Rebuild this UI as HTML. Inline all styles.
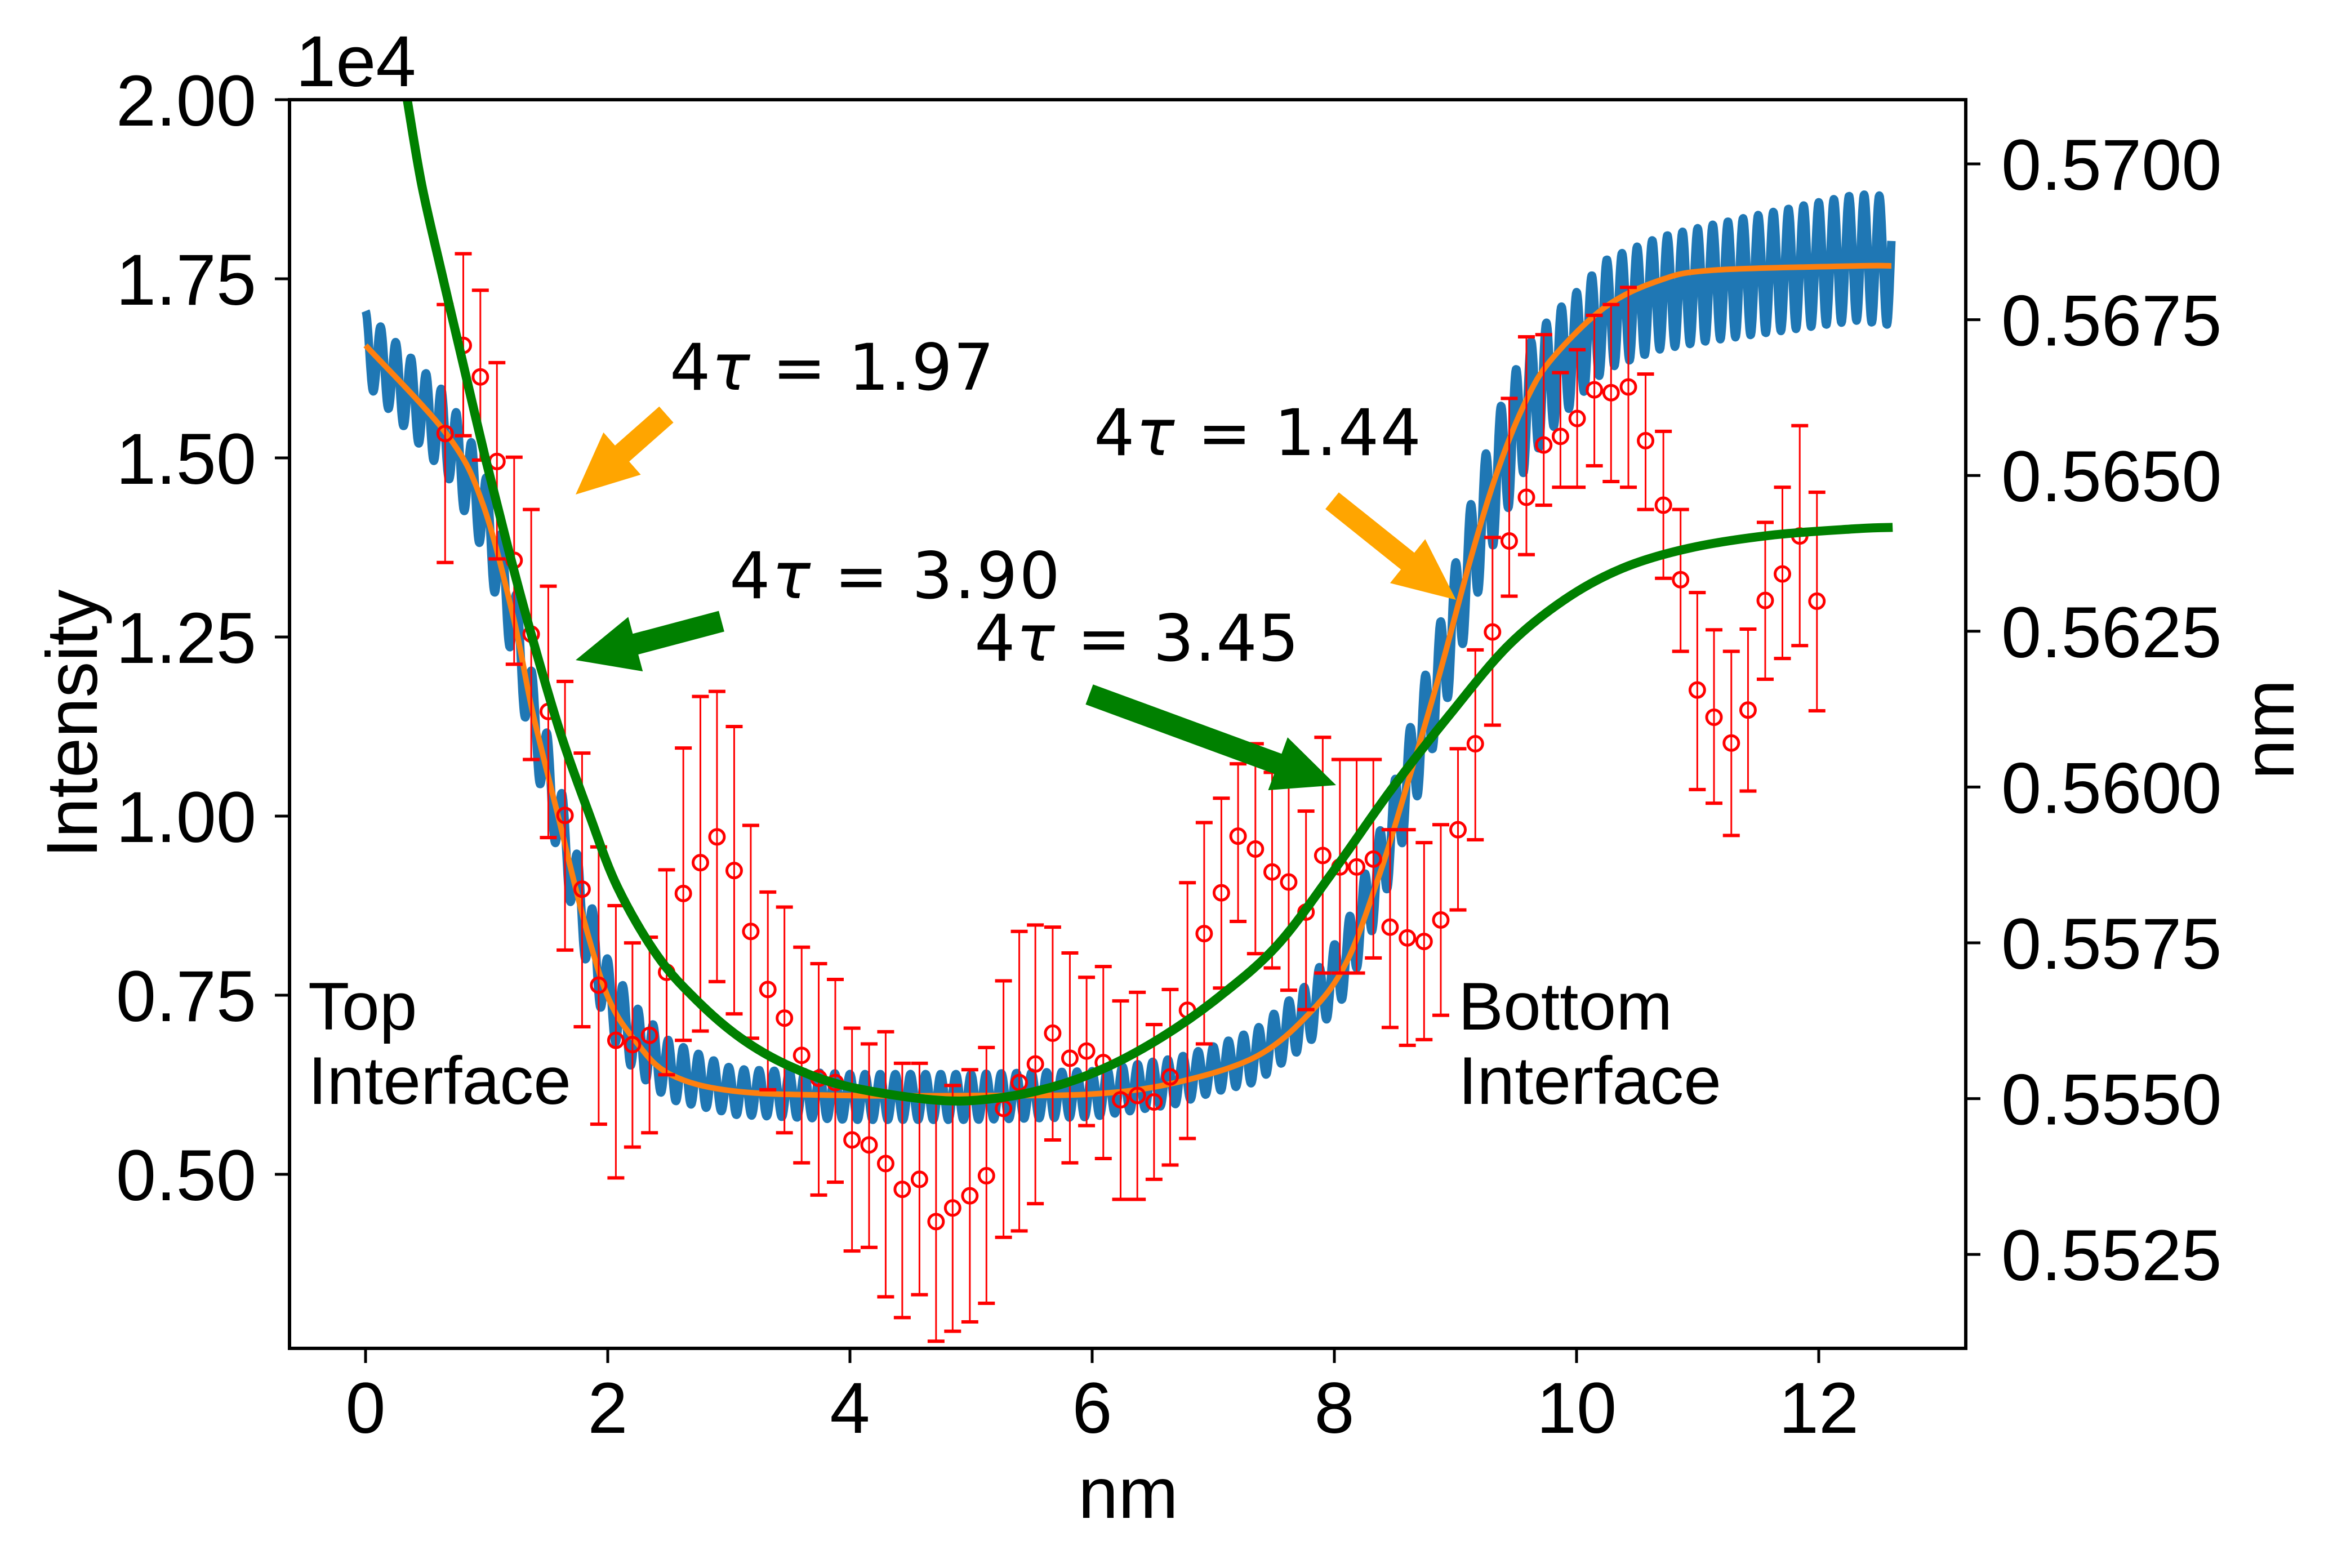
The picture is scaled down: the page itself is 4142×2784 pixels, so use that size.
<!DOCTYPE html>
<html><head><meta charset="utf-8">
<style>
html,body{margin:0;padding:0;background:#fff;}
svg{display:block;}
text{font-family:"Liberation Sans",sans-serif;fill:#000;}
.ann{font-family:"DejaVu Sans","Liberation Sans",sans-serif;font-size:114px;}
</style></head>
<body>
<svg id="chart" width="4142" height="2784" viewBox="0 0 4142 2784" xmlns="http://www.w3.org/2000/svg">
<defs><clipPath id="plotclip"><rect x="514" y="177" width="2976" height="2217"/></clipPath></defs>
<rect x="0" y="0" width="4142" height="2784" fill="#fff"/>
<g id="series" clip-path="url(#plotclip)"></g>
<g id="axes"></g>
<g id="annots">
  <text class="ann" x="1189" y="692" textLength="576" lengthAdjust="spacing">4<tspan font-style="italic">τ</tspan> = 1.97</text>
  <text class="ann" x="1295" y="1062" textLength="587" lengthAdjust="spacing">4<tspan font-style="italic">τ</tspan> = 3.90</text>
  <text class="ann" x="1730" y="1173" textLength="576" lengthAdjust="spacing">4<tspan font-style="italic">τ</tspan> = 3.45</text>
  <text class="ann" x="1942" y="808" textLength="581" lengthAdjust="spacing">4<tspan font-style="italic">τ</tspan> = 1.44</text>
  <text x="547" y="1828" font-size="120">Top</text>
  <text x="547" y="1960" font-size="120">Interface</text>
  <text x="2589" y="1828" font-size="120">Bottom</text>
  <text x="2589" y="1960" font-size="120">Interface</text>
</g>
</svg>
<script>
// ---- data ----
const xTicks = [0, 2, 4, 6, 8, 10, 12];
const yTicks = [0.50, 0.75, 1.00, 1.25, 1.50, 1.75, 2.00];
const yTickLabels = ["0.50", "0.75", "1.00", "1.25", "1.50", "1.75", "2.00"];
const y2Ticks = [0.5700, 0.5675, 0.5650, 0.5625, 0.5600, 0.5575, 0.5550, 0.5525];
const y2TickLabels = ["0.5700", "0.5675", "0.5650", "0.5625", "0.5600", "0.5575", "0.5550", "0.5525"];

const fitX = [0, 0.68, 0.97, 1.22, 1.38, 1.59, 1.80, 2.0, 2.22, 2.51, 3.05, 4.0, 5.0, 6.0, 6.69, 7.35, 7.79, 8.10, 8.37, 8.59, 8.86, 9.13, 9.35, 9.58, 9.80, 10.24, 10.69, 11.13, 12.32, 12.6];
const fitY = [1.657, 1.531, 1.435, 1.278, 1.145, 1.0, 0.857, 0.748, 0.688, 0.64, 0.616, 0.61, 0.61, 0.612, 0.628, 0.664, 0.724, 0.796, 0.917, 1.037, 1.193, 1.362, 1.483, 1.579, 1.639, 1.711, 1.748, 1.762, 1.768, 1.768];

const blueX = [0, 0.68, 0.97, 1.22, 1.38, 1.59, 1.80, 2.0, 2.22, 2.51, 3.05, 4.0, 5.0, 6.0, 6.69, 7.35, 7.79, 8.10, 8.37, 8.59, 8.86, 9.13, 9.35, 9.58, 9.80, 10.24, 10.69, 11.13, 12.32, 12.6];
const blueCenter = [1.655, 1.53, 1.43, 1.275, 1.14, 1.0, 0.86, 0.75, 0.69, 0.645, 0.615, 0.608, 0.608, 0.612, 0.63, 0.665, 0.725, 0.80, 0.92, 1.04, 1.19, 1.36, 1.48, 1.57, 1.62, 1.70, 1.73, 1.745, 1.78, 1.775];
const ampX = [0, 1, 2, 3, 7, 8, 8.5, 9, 9.5, 10, 11, 12.6];
const ampY = [0.05, 0.06, 0.05, 0.032, 0.032, 0.045, 0.06, 0.075, 0.085, 0.075, 0.08, 0.09];
const bluePeriod = 0.125;

const greenX = [0.344, 0.465, 0.628, 0.795, 0.986, 1.177, 1.368, 1.605, 1.842, 2.08, 2.41, 2.74, 3.1, 3.49, 3.97, 4.68, 5.15, 5.63, 6.10, 6.58, 7.05, 7.53, 8.0, 8.47, 8.95, 9.43, 9.90, 10.38, 10.93, 11.6, 12.3, 12.61];
const greenY = [2.0, 1.880, 1.759, 1.639, 1.502, 1.374, 1.254, 1.118, 1.005, 0.901, 0.805, 0.742, 0.69, 0.652, 0.623, 0.604, 0.605, 0.620, 0.648, 0.692, 0.748, 0.820, 0.925, 1.037, 1.141, 1.237, 1.302, 1.346, 1.374, 1.392, 1.401, 1.403];

const ptX = [0.657,0.807,0.948,1.085,1.227,1.368,1.509,1.647,1.788,1.925,2.067,2.204,2.345,2.486,2.624,2.765,2.902,3.044,3.181,3.322,3.459,3.601,3.742,3.879,4.017,4.158,4.295,4.432,4.574,4.711,4.848,4.990,5.127,5.268,5.398,5.531,5.674,5.816,5.954,6.092,6.235,6.373,6.511,6.644,6.787,6.925,7.067,7.205,7.348,7.486,7.623,7.766,7.904,8.046,8.184,8.322,8.460,8.603,8.741,8.879,9.021,9.164,9.306,9.444,9.586,9.729,9.867,10.005,10.147,10.285,10.428,10.570,10.717,10.859,10.997,11.135,11.278,11.416,11.558,11.700,11.843,11.985];
const ptY = [1.534,1.657,1.613,1.495,1.357,1.254,1.146,1.001,0.898,0.764,0.687,0.681,0.694,0.782,0.892,0.935,0.971,0.924,0.839,0.758,0.718,0.666,0.634,0.628,0.548,0.541,0.515,0.479,0.493,0.434,0.453,0.470,0.498,0.592,0.628,0.654,0.697,0.662,0.672,0.656,0.604,0.610,0.601,0.636,0.729,0.836,0.893,0.972,0.954,0.922,0.908,0.866,0.945,0.929,0.929,0.940,0.845,0.830,0.825,0.855,0.981,1.101,1.257,1.384,1.445,1.518,1.530,1.555,1.595,1.591,1.599,1.524,1.434,1.330,1.176,1.138,1.102,1.148,1.301,1.338,1.391,1.300];
const ptHi = [1.714,1.785,1.734,1.633,1.501,1.428,1.321,1.188,1.088,0.957,0.875,0.823,0.831,0.925,1.095,1.167,1.174,1.125,0.987,0.894,0.873,0.817,0.794,0.772,0.704,0.682,0.699,0.655,0.655,0.604,0.624,0.646,0.677,0.770,0.839,0.848,0.845,0.809,0.775,0.790,0.742,0.754,0.709,0.758,0.907,0.991,1.025,1.073,1.101,1.061,1.073,1.007,1.110,1.079,1.079,1.079,0.981,0.981,0.963,0.988,1.094,1.232,1.389,1.583,1.669,1.672,1.619,1.651,1.699,1.714,1.738,1.617,1.537,1.428,1.312,1.260,1.230,1.261,1.410,1.459,1.545,1.452];
const ptLo = [1.354,1.531,1.497,1.359,1.212,1.079,0.970,0.813,0.706,0.570,0.495,0.538,0.558,0.639,0.687,0.700,0.769,0.724,0.690,0.618,0.558,0.516,0.471,0.489,0.393,0.398,0.329,0.300,0.332,0.267,0.281,0.294,0.320,0.412,0.421,0.459,0.548,0.516,0.568,0.522,0.465,0.465,0.493,0.513,0.550,0.682,0.760,0.853,0.808,0.788,0.757,0.730,0.781,0.781,0.781,0.802,0.705,0.680,0.688,0.722,0.869,0.967,1.127,1.307,1.365,1.434,1.459,1.459,1.489,1.467,1.459,1.428,1.332,1.230,1.037,1.018,0.973,1.035,1.191,1.220,1.238,1.147];

// ---- axis functions ----
const L = 514, R = 3490, T = 177, B = 2394;
function sx(x){ return 649 + x * 215; }
function sy(v){ return 177 + (2.0 - v) * 1272; }
function sy2(v){ return 291 + (0.57 - v) / 0.0025 * 276.6; }
function interp(xs, ys, x){
  if (x <= xs[0]) return ys[0];
  for (let i = 1; i < xs.length; i++){
    if (x <= xs[i]){ const t = (x - xs[i-1]) / (xs[i] - xs[i-1]); return ys[i-1] + t * (ys[i] - ys[i-1]); }
  }
  return ys[ys.length - 1];
}
function smoothPath(xs, ys){
  const P = xs.map((x,i)=>[sx(x), sy(ys[i])]);
  let d = 'M' + P[0][0].toFixed(1) + ',' + P[0][1].toFixed(1);
  for (let i = 0; i < P.length - 1; i++){
    const p0 = P[Math.max(0,i-1)], p1 = P[i], p2 = P[i+1], p3 = P[Math.min(P.length-1,i+2)];
    const c1 = [p1[0] + (p2[0]-p0[0])/6, p1[1] + (p2[1]-p0[1])/6];
    const c2 = [p2[0] - (p3[0]-p1[0])/6, p2[1] - (p3[1]-p1[1])/6];
    d += 'C' + c1[0].toFixed(1) + ',' + c1[1].toFixed(1) + ' ' + c2[0].toFixed(1) + ',' + c2[1].toFixed(1) + ' ' + p2[0].toFixed(1) + ',' + p2[1].toFixed(1);
  }
  return d;
}
const NS = 'http://www.w3.org/2000/svg';
function mk(tag, attrs, parent){
  const e = document.createElementNS(NS, tag);
  for (const k in attrs) e.setAttribute(k, attrs[k]);
  parent.appendChild(e);
  return e;
}
const series = document.getElementById('series');
const axes = document.getElementById('axes');

let bd = '';
for (let x = 0; x <= 12.6001; x += 0.004){
  const c = interp(blueX, blueCenter, x);
  const a = interp(ampX, ampY, x);
  const v = c + a * Math.cos(2 * Math.PI * x / bluePeriod);
  bd += (bd ? 'L' : 'M') + sx(x).toFixed(1) + ',' + sy(v).toFixed(1);
}
const blue = mk('path', {d: bd, fill: 'none', stroke: '#1f77b4', 'stroke-width': 15, 'stroke-linejoin': 'round'}, series);



const orange = mk('path', {d: smoothPath(fitX, fitY), fill: 'none', stroke: '#ff7f0e', 'stroke-width': 10}, series);



const pg = mk('g', {}, series);


for (let i = 0; i < ptX.length; i++){
  const X = sx(ptX[i]);
  const bar = mk('path', {d: 'M' + X + ',' + sy(ptHi[i]) + 'L' + X + ',' + sy(ptLo[i]), stroke: '#ff0000', 'stroke-width': 3, fill: 'none'}, pg);
  
  
  const cap1 = mk('path', {d: 'M' + (X-15) + ',' + sy(ptHi[i]) + 'L' + (X+15) + ',' + sy(ptHi[i]) + 'M' + (X-15) + ',' + sy(ptLo[i]) + 'L' + (X+15) + ',' + sy(ptLo[i]), stroke: '#ff0000', 'stroke-width': 6}, pg);
  
  
  const c = mk('circle', {cx: X, cy: sy(ptY[i]), r: 13, fill: 'none', stroke: '#ff0000', 'stroke-width': 5}, pg);
  
  
}

const green = mk('path', {d: smoothPath(greenX, greenY), fill: 'none', stroke: '#008000', 'stroke-width': 16}, series);



function arrow(x1, y1, x2, y2, color, name){
  const dx = x2 - x1, dy = y2 - y1, len = Math.hypot(dx, dy);
  const ux = dx / len, uy = dy / len, nx = -uy, ny = ux;
  const w = 19, hw = 50, hl = 110;
  const bx = x2 - ux * hl, by = y2 - uy * hl;
  const pts = [[x1 + nx*w, y1 + ny*w], [bx + nx*w, by + ny*w], [bx + nx*hw, by + ny*hw], [x2, y2], [bx - nx*hw, by - ny*hw], [bx - nx*w, by - ny*w], [x1 - nx*w, y1 - ny*w]];
  const p = mk('polygon', {points: pts.map(q => q[0].toFixed(1) + ',' + q[1].toFixed(1)).join(' '), fill: color}, document.getElementById('annots'));
  
  
}
arrow(1183, 736, 1022, 878, '#ffa500', 'arrow-top-orange');
arrow(1281, 1103, 1022, 1172, '#008000', 'arrow-top-green');
arrow(2365, 889, 2585, 1065, '#ffa500', 'arrow-bottom-orange');
arrow(1934, 1233, 2372, 1394, '#008000', 'arrow-bottom-green');

const frame = mk('rect', {x: L, y: T, width: R - L, height: B - T, fill: 'none', stroke: '#000', 'stroke-width': 6}, axes);



xTicks.forEach(t => {
  const X = sx(t);
  const tk = mk('line', {x1: X, y1: B, x2: X, y2: B + 26, stroke: '#000', 'stroke-width': 5}, axes);
  
  
  const lb = mk('text', {x: X, y: 2544, 'font-size': 128, 'text-anchor': 'middle'}, axes);
  lb.textContent = String(t);
  
  
});
yTicks.forEach((t, i) => {
  const Y = sy(t);
  const tk = mk('line', {x1: L - 26, y1: Y, x2: L, y2: Y, stroke: '#000', 'stroke-width': 5}, axes);
  
  
  const lb = mk('text', {x: 455, y: Y + 46, 'font-size': 128, 'text-anchor': 'end'}, axes);
  lb.textContent = yTickLabels[i];
  
  
});
y2Ticks.forEach((t, i) => {
  const Y = sy2(t);
  const tk = mk('line', {x1: R, y1: Y, x2: R + 26, y2: Y, stroke: '#000', 'stroke-width': 5}, axes);
  
  
  const lb = mk('text', {x: 3553, y: Y + 46, 'font-size': 128, 'text-anchor': 'start'}, axes);
  lb.textContent = y2TickLabels[i];
  
  
});
const off = mk('text', {x: 525, y: 153, 'font-size': 128}, axes);
off.textContent = '1e4';


const xl = mk('text', {x: 2003, y: 2695, 'font-size': 128, 'text-anchor': 'middle'}, axes);
xl.textContent = 'nm';


const yl = mk('text', {x: 0, y: 0, 'font-size': 128, 'text-anchor': 'middle', transform: 'translate(172,1285) rotate(-90)'}, axes);
yl.textContent = 'Intensity';


const y2l = mk('text', {x: 0, y: 0, 'font-size': 128, 'text-anchor': 'middle', transform: 'translate(4072,1295) rotate(-90)'}, axes);
y2l.textContent = 'nm';


</script>
</body></html>
